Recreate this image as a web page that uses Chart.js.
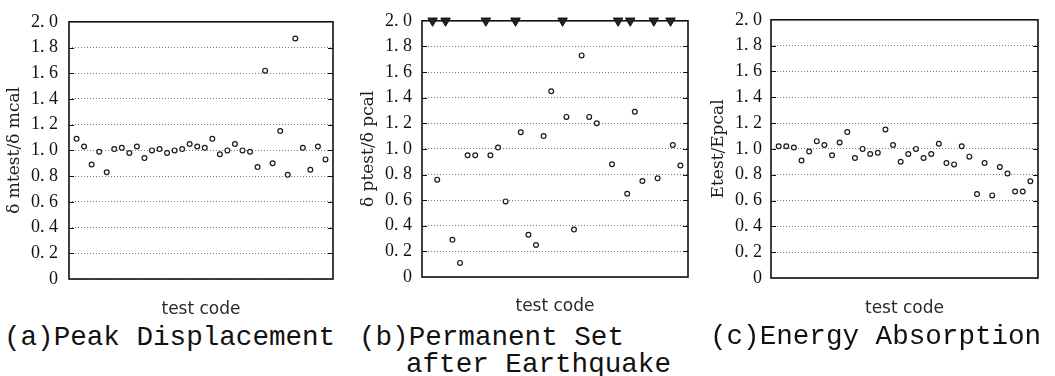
<!DOCTYPE html>
<html>
<head>
<meta charset="utf-8">
<script src="https://cdn.jsdelivr.net/npm/chart.js@4.4.1/dist/chart.umd.min.js"></script>
<style>
  html, body { margin: 0; padding: 0; background: #fff; width: 1055px; height: 376px; overflow: hidden; }
  .panel { position: absolute; top: 0; }
  .panel canvas { display: block; }
  .caption { position: absolute; font-family: 'Liberation Mono', 'DejaVu Sans Mono', monospace; font-size: 27.6px; line-height: 27px; color: #111; white-space: pre; }
</style>
</head>
<body>
<div class="panel" style="left:0px"><canvas id="chartA" width="345" height="322"></canvas></div>
<div class="panel" style="left:345px"><canvas id="chartB" width="355" height="322"></canvas></div>
<div class="panel" style="left:700px"><canvas id="chartC" width="355" height="322"></canvas></div>

<div class="caption" style="left:4px;top:324px">(a)Peak Displacement</div>
<div class="caption" style="left:359px;top:324px">(b)Permanent Set</div>
<div class="caption" style="left:406px;top:351px">after Earthquake</div>
<div class="caption" style="left:710px;top:323px">(c)Energy Absorption</div>

<script>
// Test specimens, numbered along the horizontal axis
const testCodes = [1, 2, 3, 4, 5, 6, 7, 8, 9, 10, 11, 12, 13, 14, 15, 16, 17,
                   18, 19, 20, 21, 22, 23, 24, 25, 26, 27, 28, 29, 30, 31, 32, 33, 34];

// (a) peak displacement ratio, test / calculated
const peakDisplacement = [1.09, 1.03, 0.89, 0.99, 0.83, 1.01, 1.02, 0.98, 1.03, 0.94,
                          1.00, 1.01, 0.98, 1.00, 1.01, 1.05, 1.03, 1.02, 1.09, 0.97,
                          1.00, 1.05, 1.00, 0.99, 0.87, 1.62, 0.90, 1.15, 0.81, 1.87,
                          1.02, 0.85, 1.03, 0.93];

// (b) permanent set ratio; null where the value runs beyond the axis
const permanentSet = [null, 0.76, null, 0.29, 0.11, 0.95, 0.95, null, 0.95, 1.01,
                      0.59, null, 1.13, 0.33, 0.25, 1.10, 1.45, null, 1.25, 0.37,
                      1.73, 1.25, 1.20, null, 0.88, null, 0.65, 1.29, 0.75, null,
                      0.77, null, 1.03, 0.87];
// positions of the off-scale markers along the top edge
const permanentSetOffScale = [1.4, 3.1, 8.4, 12.3, 18.5, 25.8, 27.4, 30.5, 32.7];

// (c) absorbed energy ratio
const energyAbsorption = [1.02, 1.02, 1.01, 0.91, 0.98, 1.06, 1.03, 0.95, 1.05, 1.13,
                          0.93, 1.00, 0.96, 0.97, 1.15, 1.03, 0.90, 0.96, 1.00, 0.93,
                          0.96, 1.04, 0.89, 0.88, 1.02, 0.94, 0.65, 0.89, 0.64, 0.86,
                          0.81, 0.67, 0.67, 0.75];

const yTickLabels = ['0', '0. 2', '0. 4', '0. 6', '0. 8', '1. 0', '1. 2', '1. 4', '1. 6', '1. 8', '2. 0'];
const yMin = 0, yMax = 2.0, yStep = 0.2;
const xMin = 0, xMax = 35;

function points(values) {
  const out = [];
  testCodes.forEach((c, i) => { if (values[i] !== null) out.push({ x: c, y: values[i] }); });
  return out;
}

// Plot frame with short inward ticks on both sides
const framePlugin = {
  id: 'frame',
  beforeDatasetsDraw(chart) {
    const { ctx, chartArea: a, scales: { y } } = chart;
    ctx.save();
    ctx.strokeStyle = '#111';
    ctx.lineWidth = 1;
    y.ticks.forEach(t => {
      if (t.value <= yMin + 1e-6 || t.value >= yMax - 1e-6) return;
      const py = Math.round(y.getPixelForValue(t.value)) + 0.5;
      ctx.beginPath();
      ctx.moveTo(a.left, py); ctx.lineTo(a.left + 5, py);
      ctx.moveTo(a.right - 5, py); ctx.lineTo(a.right, py);
      ctx.stroke();
    });
    ctx.lineWidth = 1.6;
    ctx.strokeRect(a.left, a.top, a.right - a.left, a.bottom - a.top);
    ctx.restore();
  }
};

function circleSet(values) {
  return {
    data: points(values),
    pointStyle: 'circle',
    pointRadius: 2.4,
    pointBorderWidth: 1.2,
    pointBorderColor: '#1a1a1a',
    pointBackgroundColor: '#fff',
    showLine: false,
    clip: false
  };
}

function makePanel(cfg) {
  const canvas = document.getElementById(cfg.id);
  const H = canvas.height;
  const titleLine = 20;
  new Chart(canvas, {
    type: 'scatter',
    data: { datasets: cfg.datasets },
    options: {
      responsive: false,
      animation: false,
      events: [],
      layout: { padding: { top: cfg.top, right: cfg.right, bottom: 0, left: 0 } },
      plugins: { legend: { display: false }, tooltip: { enabled: false } },
      scales: {
        x: {
          type: 'linear', min: xMin, max: xMax,
          ticks: { display: false },
          grid: { display: false, drawTicks: false },
          border: { display: false },
          title: {
            display: true, text: 'test code', color: '#2a2a2a',
            font: { family: 'DejaVu Sans', size: 17, weight: 'normal', lineHeight: titleLine / 17 },
            padding: { top: 0, bottom: H - cfg.xTitleY - titleLine / 2 }
          },
          afterFit(s) { s.height = H - cfg.bottom; }
        },
        y: {
          min: yMin, max: yMax,
          ticks: {
            stepSize: yStep, padding: cfg.tickPad, color: '#111',
            font: { family: 'Liberation Serif', size: 18 },
            callback: (v, i) => yTickLabels[i]
          },
          grid: {
            drawTicks: false, color: '#7a7a7a', lineWidth: 1,
            drawOnChartArea: true
          },
          border: { display: false, dash: [1, 2] },
          title: {
            display: true, text: cfg.yTitle, color: '#1a1a1a',
            font: { family: 'DejaVu Serif', size: 17, lineHeight: titleLine / 17 },
            padding: { top: cfg.yTitleX - titleLine / 2, bottom: 0 }
          },
          afterFit(s) { s.width = cfg.left; }
        }
      }
    },
    plugins: [framePlugin]
  });
}

makePanel({
  id: 'chartA', left: 69, right: 12, top: 14, bottom: 279, tickPad: 11,
  xTitleY: 310, yTitleX: 15, yTitle: 'δ mtest/δ mcal',
  datasets: [circleSet(peakDisplacement)]
});

makePanel({
  id: 'chartB', left: 77, right: 12, top: 12, bottom: 277, tickPad: 10,
  xTitleY: 307, yTitleX: 24, yTitle: 'δ ptest/δ pcal',
  datasets: [
    circleSet(permanentSet),
    {
      data: permanentSetOffScale.map(x => ({ x: x, y: yMax })),
      pointStyle: 'triangle',
      rotation: 180,
      pointRadius: 5.5,
      pointBorderWidth: 1,
      pointBorderColor: '#111',
      pointBackgroundColor: '#222',
      showLine: false,
      clip: false
    }
  ]
});

makePanel({
  id: 'chartC', left: 71, right: 17, top: 14, bottom: 278, tickPad: 9,
  xTitleY: 309, yTitleX: 19, yTitle: 'Etest/Epcal',
  datasets: [circleSet(energyAbsorption)]
});
</script>
</body>
</html>
